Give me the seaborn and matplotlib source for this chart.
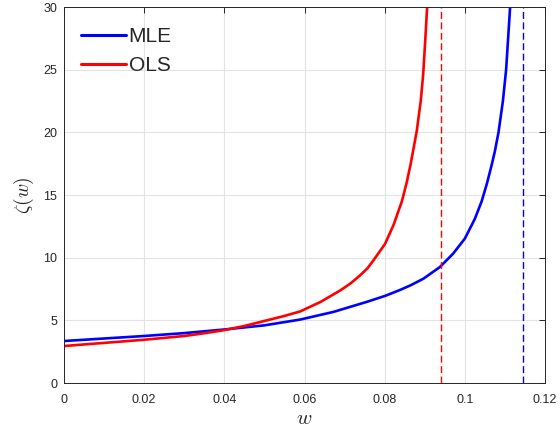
import numpy as np
import pandas as pd
import matplotlib
matplotlib.use("Agg")
import matplotlib.pyplot as plt
import seaborn as sns

# MLE curve
mle_w = [0, 0.01, 0.02, 0.03, 0.04, 0.05, 0.0589, 0.0672, 0.0755, 0.0801, 0.0838,
         0.0865, 0.0897, 0.0938, 0.0971, 0.1000, 0.1025, 0.1042, 0.1055, 0.1067, 0.1075,
         0.1084, 0.1095, 0.1103, 0.1108, 0.1113]
mle_z = [3.35, 3.55, 3.75, 3.98, 4.27, 4.6, 5.06, 5.67, 6.47, 6.95, 7.42,
         7.8, 8.33, 9.26, 10.33, 11.52, 13.1, 14.5, 15.9, 17.4, 18.5,
         20.0, 22.5, 25.0, 27.5, 30.0]
# OLS curve
ols_w = [0, 0.01, 0.02, 0.03, 0.035, 0.04, 0.045, 0.05, 0.055, 0.059, 0.064, 0.069,
         0.0715, 0.0739, 0.0757, 0.0772, 0.0801, 0.0822, 0.0843, 0.0855, 0.0865, 0.0872,
         0.0880, 0.0890, 0.0896, 0.0901, 0.0906]
ols_z = [2.95, 3.2, 3.45, 3.75, 3.97, 4.22, 4.55, 4.95, 5.35, 5.72, 6.47, 7.4,
         7.95, 8.6, 9.15, 9.79, 11.1, 12.6, 14.5, 16.0, 17.5, 18.7,
         20.1, 22.5, 24.6, 27.2, 30.0]
# asymptotes
mle_asym = 0.1146
ols_asym = 0.0941

xticks = [0, 0.02, 0.04, 0.06, 0.08, 0.1, 0.12]
xticklabels = ["0", "0.02", "0.04", "0.06", "0.08", "0.1", "0.12"]
yticks = [0, 5, 10, 15, 20, 25, 30]

df = pd.concat([
    pd.DataFrame({"w": mle_w, "z": mle_z, "method": "MLE"}),
    pd.DataFrame({"w": ols_w, "z": ols_z, "method": "OLS"}),
], ignore_index=True)

sns.set_style("white")
plt.rcParams["font.family"] = ["Liberation Sans", "DejaVu Sans"]
plt.rcParams["mathtext.fontset"] = "cm"

fig = plt.figure(figsize=(5.6, 4.32), dpi=100)
ax = fig.add_axes([64/560, 49/432, 481/560, 376/432])

sns.lineplot(data=df, x="w", y="z", hue="method", palette={"MLE": "#0000ff", "OLS": "#ff0000"},
             linewidth=1.9, ax=ax, sort=False, estimator=None)

ax.plot([ols_asym, ols_asym], [0, 30], color="#ff0000", linewidth=1.0, dashes=(5, 2.5))
ax.plot([mle_asym, mle_asym], [0, 30], color="#0000ff", linewidth=1.0, dashes=(5, 2.5))

ax.set_xlim(0, 0.12)
ax.set_ylim(0, 30)
ax.set_xticks(xticks)
ax.set_xticklabels(xticklabels)
ax.set_yticks(yticks)
ax.grid(True, color="#e3e3e3", linewidth=0.8)
ax.set_axisbelow(True)
for s in ax.spines.values():
    s.set_color("#262626")
    s.set_linewidth(0.7)
ax.tick_params(direction="in", length=4, width=0.7, color="#262626", labelsize=9,
               labelcolor="#262626", top=True, right=True)
ax.tick_params(axis="x", pad=8)
ax.tick_params(axis="y", pad=5)
ax.set_xlabel(r"$w$", fontsize=15, labelpad=2)
ax.set_ylabel(r"$\zeta(w)$", fontsize=14, labelpad=5)

leg = ax.legend(loc="upper left", frameon=False, fontsize=15, handlelength=2.2,
                handletextpad=0.1, labelspacing=0.45, borderaxespad=0.4,
                bbox_to_anchor=(0.0, 0.99))
for line in leg.get_lines():
    line.set_linewidth(2.2)

fig.savefig("out.png", dpi=100)
